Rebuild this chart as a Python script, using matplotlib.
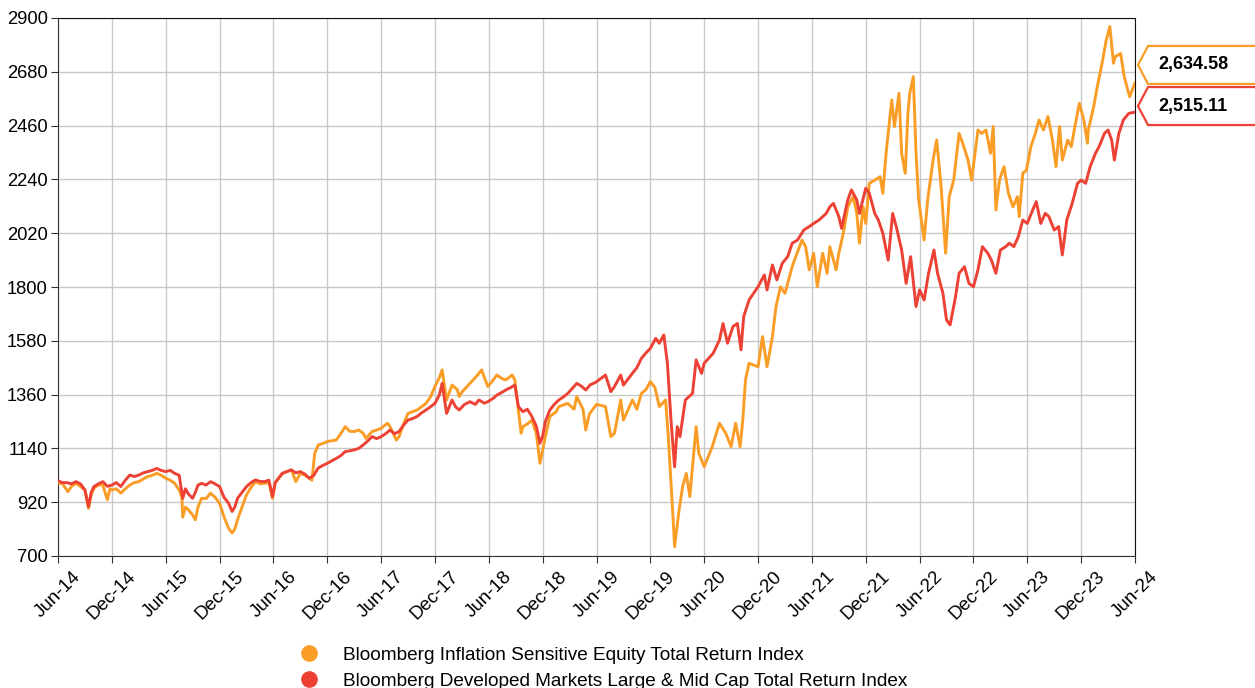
import matplotlib
matplotlib.use("Agg")
import matplotlib.pyplot as plt
from matplotlib.patches import Polygon
from matplotlib.lines import Line2D
from matplotlib.transforms import IdentityTransform

plt.rcParams['font.family'] = ['Liberation Sans', 'DejaVu Sans']

# x = months since Jun-2014
orange_x = [0, 0.5, 1.1, 1.5, 2.0, 2.5, 3.0, 3.4, 3.7, 4.0, 4.5, 5.0, 5.5, 5.8, 6.0, 6.5, 7.0, 7.5, 8.0, 8.5,
            9.0, 9.5, 10.0, 10.5, 11.0, 11.5, 12.0, 12.5, 13.0, 13.5, 13.8, 13.9, 14.2, 14.5, 15.0, 15.3, 15.6,
            16.0, 16.5, 17.0, 17.5, 18.0, 18.5, 19.0, 19.4, 19.7, 20.0, 20.5, 21.0, 21.5, 22.0, 22.5, 23.0,
            23.5, 23.9, 24.2, 25.0, 25.5, 26.0, 26.5, 27.0, 27.5, 28.0, 28.3, 28.6, 29.0, 29.5, 30.0,
            31.0, 31.5, 32.0, 32.5, 33.0, 33.5, 34.0, 34.3, 35.0, 35.5, 36.0, 36.7, 37.0, 37.7, 38.0, 38.5,
            39.0, 39.5, 40.0, 40.5, 41.0, 41.5, 42.0, 42.5, 42.8, 43.3, 43.9, 44.5, 44.7, 45.0, 45.9, 46.5,
            46.9, 47.2, 47.5, 47.9, 48.5, 48.9, 49.5, 49.9, 50.6, 50.9, 51.3, 51.6, 51.8, 52.3, 52.8, 53.3,
            53.7, 54.3, 54.8, 55.5, 55.8, 56.8, 57.5, 57.8, 58.5, 58.8, 59.2, 60.0,
            61.0, 61.6, 62.0, 62.7, 63.0, 64.0, 64.5, 65.0, 65.5, 66.0, 66.5, 67.0, 67.7, 68.0, 68.5, 68.7,
            69.2, 69.6, 70.0, 70.4, 71.1, 71.4, 72.0, 72.9, 73.7, 74.4, 75.0, 75.5, 76.0, 76.3, 76.6, 77.0,
            78.0, 78.5, 79.0, 79.6, 80.0, 80.5, 81.0, 81.8, 82.2, 82.9, 83.3, 83.7, 84.2, 84.6, 85.2, 85.7,
            86.0, 86.7, 87.0, 87.5, 88.0, 88.6, 89.0, 89.3, 89.7, 90.0, 90.4, 91.0, 91.6, 91.9, 92.3, 92.9,
            93.2, 93.7, 94.0, 94.4, 94.7, 94.9, 95.3, 95.6, 95.9, 96.2, 96.5, 96.9, 97.5, 97.9, 98.4, 98.9,
            99.3, 99.8, 100.4, 100.8, 101.4, 101.8, 102.5, 102.9, 103.4, 103.9, 104.2, 104.5, 104.9, 105.4,
            105.9, 106.4, 106.9, 107.1, 107.5, 107.9, 108.4, 108.9, 109.3, 109.8, 110.3, 110.8, 111.2, 111.6,
            111.9, 112.5, 112.9, 113.3, 113.8, 114.3, 114.7, 114.8, 115.4, 115.8, 116.4, 116.8, 117.2, 117.6,
            117.8, 118.4, 118.8, 119.4, 120.0]
orange_y = [1000, 995, 963, 985, 997, 985, 970, 895, 950, 977, 990, 990, 930, 975, 970, 975, 957, 975, 990, 1000,
            1004, 1015, 1025, 1030, 1038, 1030, 1018, 1010, 997, 970, 940, 859, 900, 890, 868, 848, 900,
            936, 935, 957, 940, 916, 860, 814, 794, 810, 848, 900, 950, 980, 1004, 995, 997,
            1000, 936, 1000, 1038, 1045, 1052, 1004, 1038, 1030, 1018, 1010, 1120, 1154, 1160, 1168,
            1174, 1200, 1229, 1210, 1209, 1215, 1202, 1181, 1209, 1215, 1222, 1243, 1229, 1174, 1188, 1240,
            1283, 1290, 1297, 1310, 1324, 1350, 1393, 1430, 1461, 1338, 1399, 1380, 1352, 1370, 1406, 1430,
            1447, 1461, 1430, 1393, 1420, 1440, 1425, 1420, 1440, 1420, 1297, 1202, 1229, 1240, 1256, 1200,
            1079, 1188, 1270, 1290, 1311, 1324, 1300, 1352, 1300, 1215, 1280, 1320,
            1311, 1188, 1202, 1338, 1256, 1338, 1300, 1365, 1380, 1413, 1390, 1311, 1338, 1188, 875, 738,
            888, 984, 1038, 943, 1229, 1120, 1065, 1147, 1243, 1202, 1147, 1243, 1147, 1256, 1420, 1488,
            1474, 1597, 1474, 1597, 1720, 1801, 1774, 1883, 1924, 1992, 1965, 1870, 1938, 1801, 1938, 1856,
            1965, 1870, 1938, 2020, 2128, 2169, 2101, 1979, 2128, 2060, 2224, 2237, 2251, 2183, 2360, 2565,
            2456, 2592, 2347, 2265, 2510, 2592, 2660, 2347, 2156, 2074, 1992, 2156, 2319, 2401, 2210, 1938,
            2169, 2237, 2428, 2388, 2319, 2237, 2442, 2428, 2442, 2347, 2456, 2115, 2237, 2292,
            2183, 2128, 2169, 2088, 2265, 2278, 2374, 2428, 2483, 2442, 2497, 2401, 2292, 2456,
            2319, 2401, 2374, 2456, 2551, 2483, 2388, 2442, 2538, 2619, 2728, 2810, 2865, 2715,
            2742, 2755, 2660, 2578, 2634.58]

red_x = [0, 0.5, 1.0, 1.5, 2.0, 2.5, 3.0, 3.4, 3.7, 4.0, 4.5, 5.0, 5.5, 6.0, 6.5, 7.0, 7.5, 8.0, 8.5, 9.0,
         9.5, 10.0, 10.5, 11.0, 11.5, 12.0, 12.5, 13.0, 13.5, 13.9, 14.2, 14.5, 15.0, 15.3, 15.6, 16.0,
         16.5, 17.0, 17.5, 18.0, 18.5, 19.0, 19.4, 19.7, 20.0, 20.5, 21.0, 21.5, 22.0, 22.5, 23.0, 23.5,
         23.9, 24.2, 25.0, 25.5, 26.0, 26.5, 27.0, 27.5, 28.0, 28.5, 29.0, 29.5, 30.0,
         31.0, 31.5, 32.0, 32.5, 33.0, 33.5, 34.0, 34.5, 35.0, 35.5, 36.0, 36.5, 37.0, 37.5, 38.0, 38.5,
         39.0, 39.5, 40.0, 40.5, 41.0, 41.5, 42.0, 42.5, 42.8, 43.3, 43.9, 44.3, 44.7, 45.3, 45.9, 46.5,
         46.9, 47.5, 47.9, 48.5, 48.9, 49.5, 49.9, 50.5, 50.9, 51.3, 51.8, 52.3, 52.8, 53.3, 53.7, 54.0,
         54.3, 54.8, 55.3, 55.8, 56.3, 56.8, 57.3, 57.8, 58.3, 58.8, 59.3, 59.9,
         61.0, 61.6, 62.0, 62.7, 63.0, 64.0, 64.5, 65.0, 65.5, 66.0, 66.6, 67.0, 67.5, 67.9, 68.3, 68.7,
         69.0, 69.3, 69.9, 70.7, 71.1, 71.7, 72.0, 73.0, 73.7, 74.1, 74.6, 75.2, 75.7, 76.1, 76.4, 77.0,
         78.0, 78.7, 79.0, 79.6, 80.1, 80.7, 81.3, 81.8, 82.4, 83.1, 83.7, 84.2, 84.8,
         85.6, 86.0, 86.4, 87.0, 87.3, 88.0, 88.4, 89.0, 89.3, 90.0, 90.4, 91.0, 91.4, 91.9, 92.5, 93.0,
         93.4, 94.0, 94.5, 95.0, 95.6, 96.0, 96.5, 97.0, 97.6, 98.0, 98.6, 99.0, 99.4, 100.0, 100.4, 101.0,
         101.5, 102.0, 102.5, 103.0, 103.6, 104.0, 104.5, 105.0, 105.6, 106.0, 106.5, 107.0, 107.5, 108.0,
         108.6, 109.0, 109.5, 110.0, 110.4, 111.0, 111.5, 111.9, 112.4, 113.0, 113.6, 114.0, 114.5, 115.0,
         115.6, 116.0, 116.6, 117.0, 117.4, 117.7, 118.2, 118.7, 119.3, 120.0]
red_y = [1008, 1000, 1000, 995, 1004, 995, 970, 902, 960, 984, 995, 1004, 985, 990, 1000, 984, 1010, 1031, 1025, 1031,
         1040, 1045, 1050, 1058, 1050, 1045, 1050, 1038, 1030, 936, 975, 955, 936, 960, 990, 997,
         990, 1004, 995, 984, 940, 916, 882, 900, 936, 960, 984, 1000, 1011, 1005, 1004, 1010,
         943, 1000, 1038, 1045, 1052, 1040, 1045, 1035, 1018, 1030, 1060, 1070, 1079,
         1099, 1110, 1127, 1130, 1134, 1140, 1154, 1170, 1188, 1180, 1188, 1200, 1215, 1200, 1209, 1235,
         1256, 1262, 1270, 1285, 1297, 1310, 1324, 1360, 1406, 1283, 1338, 1310, 1297, 1320, 1331, 1320,
         1338, 1325, 1331, 1345, 1358, 1370, 1379, 1390, 1399, 1311, 1290, 1300, 1270, 1230, 1161, 1190,
         1250, 1297, 1320, 1338, 1350, 1365, 1385, 1406, 1395, 1379, 1400, 1410,
         1440, 1372, 1393, 1440, 1399, 1447, 1470, 1508, 1530, 1549, 1590, 1570, 1604, 1488, 1256, 1065,
         1229, 1188, 1338, 1365, 1502, 1447, 1488, 1529, 1583, 1651, 1570, 1638, 1651, 1543, 1679, 1747,
         1801, 1849, 1788, 1890, 1829, 1897, 1924, 1979, 1992, 2033, 2047, 2060, 2074,
         2101, 2128, 2142, 2088, 2040, 2156, 2197, 2156, 2101, 2204, 2183, 2101, 2074, 2020, 1910, 2101,
         2047, 1951, 1815, 1924, 1720, 1788, 1747, 1856, 1951, 1856, 1774, 1665, 1645, 1760, 1856, 1883,
         1815, 1801, 1870, 1965, 1938, 1910, 1856, 1951, 1965, 1979, 1965, 2006, 2074, 2060,
         2115, 2149, 2060, 2101, 2088, 2033, 2047, 1931, 2074, 2142, 2224, 2237, 2224, 2292,
         2347, 2374, 2428, 2442, 2401, 2319, 2428, 2483, 2510, 2515.11]

series_names = ["Bloomberg Inflation Sensitive Equity Total Return Index",
                "Bloomberg Developed Markets Large & Mid Cap Total Return Index"]
tag_texts = ["2,634.58", "2,515.11"]
tag_levels = [2708, 2540]   # where the end-value tags sit (shifted apart so they don't overlap)

tick_months = list(range(0, 121, 6))
tick_labels = ["Jun-14", "Dec-14", "Jun-15", "Dec-15", "Jun-16", "Dec-16", "Jun-17", "Dec-17",
               "Jun-18", "Dec-18", "Jun-19", "Dec-19", "Jun-20", "Dec-20", "Jun-21", "Dec-21",
               "Jun-22", "Dec-22", "Jun-23", "Dec-23", "Jun-24"]
y_ticks = list(range(700, 2901, 220))

ORANGE = "#FA9D26"
RED = "#EC4134"

fig = plt.figure(figsize=(12.55, 6.88), dpi=100)
ax = fig.add_axes([58 / 1255, 1 - 556 / 688, (1135 - 58) / 1255, (556 - 18) / 688])

ax.plot(orange_x, orange_y, color=ORANGE, lw=2.1, zorder=3)
ax.plot(red_x, red_y, color=RED, lw=2.1, zorder=4)

ax.set_xlim(0, 120)
ax.set_ylim(700, 2900)
ax.set_xticks(tick_months)
ax.set_xticklabels(tick_labels, rotation=45, fontsize=13.5)
ax.set_yticks(y_ticks)
ax.set_yticklabels([str(v) for v in y_ticks], fontsize=13.2)
ax.grid(True, color="#C8C8C8", lw=1.0)
ax.set_axisbelow(True)
for side in ["top", "right"]:
    ax.spines[side].set_color("#111111")
ax.spines["left"].set_color("#333333")
ax.spines["bottom"].set_color("#333333")
ax.tick_params(length=5, color="#333333", labelcolor="black")
ax.tick_params(axis="y", pad=2.5)

# end-value tags on the right
for level, txt, col in zip(tag_levels, tag_texts, [ORANGE, RED]):
    xr, yc = ax.transData.transform((120, level))
    h = 19
    pts = [(xr + 3, yc), (xr + 13, yc + h), (xr + 140, yc + h), (xr + 140, yc - h), (xr + 13, yc - h)]
    fig.add_artist(Polygon(pts, closed=True, facecolor="white", edgecolor=col, lw=1.6,
                           transform=IdentityTransform(), clip_on=False))
    fig.text(xr + 23, yc, txt, transform=IdentityTransform(), ha="left", va="center",
             fontsize=13, fontweight="bold", color="black")

handles = [Line2D([], [], marker="o", ls="none", color=c, markersize=11) for c in [ORANGE, RED]]
fig.legend(handles, series_names, loc="upper left", bbox_to_anchor=(280 / 1255, 1 - 637 / 688),
           frameon=False, fontsize=13.7, borderpad=0, handletextpad=0.8, labelspacing=0.45)

fig.savefig("out.png", dpi=100)
